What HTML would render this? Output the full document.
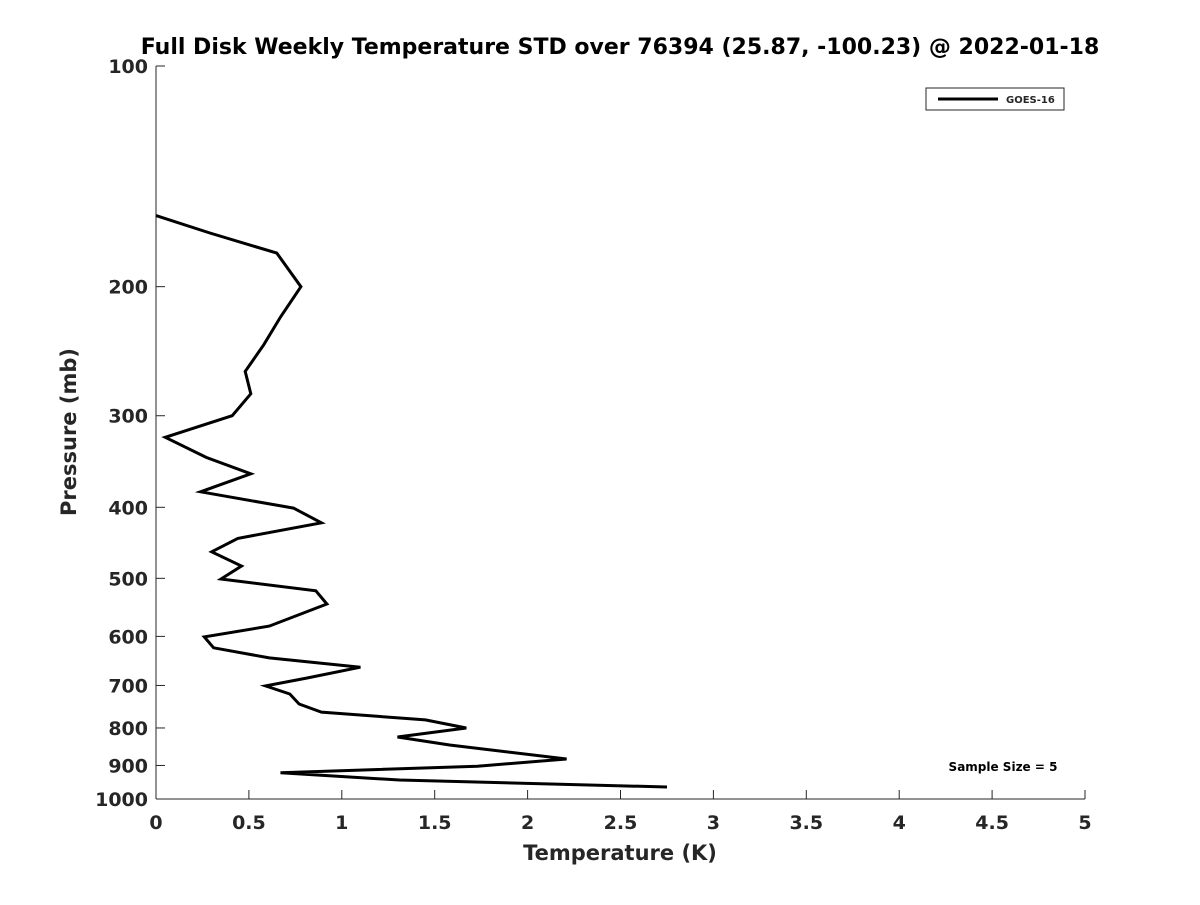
<!DOCTYPE html>
<html><head><meta charset="utf-8"><style>
body{margin:0;background:#fff;}
svg text{font-family:"DejaVu Sans","Liberation Sans",sans-serif;font-weight:bold;fill:#262626;}
</style></head><body>
<svg id="chart" width="1200" height="900" xmlns="http://www.w3.org/2000/svg">
<rect width="1200" height="900" fill="#fff"/>
<text x="620" y="54" font-size="22" text-anchor="middle" fill="#000" style="fill:#000">Full Disk Weekly Temperature STD over 76394 (25.87, -100.23) @ 2022-01-18</text>
<g id="axes"></g>
<path id="series" fill="none" stroke="#000" stroke-width="3" stroke-linejoin="miter"/>
<text x="620" y="860" font-size="21" text-anchor="middle">Temperature (K)</text>
<text transform="translate(76,432) rotate(-90)" font-size="21" text-anchor="middle">Pressure (mb)</text>
<g>
<rect x="926" y="88" width="138" height="22" fill="#fff" stroke="#262626" stroke-width="1"/>
<line x1="938" y1="99" x2="998" y2="99" stroke="#000" stroke-width="3"/>
<text x="1006" y="103" font-size="10" fill="#000">GOES-16</text>
</g>
<text x="1003" y="771" font-size="12" text-anchor="middle" style="fill:#000">Sample Size = 5</text>
</svg>
<script>
const temps = [0,0.29,0.65,0.78,0.67,0.58,0.48,0.51,0.41,0.05,0.27,0.51,0.24,0.74,0.89,0.44,0.30,0.46,0.35,0.86,0.92,0.61,0.26,0.31,0.61,1.10,0.81,0.59,0.72,0.77,0.89,1.45,1.67,1.30,1.58,2.21,1.73,0.67,1.31,2.75];
const pressures = [160,169,180,200,220,240,261,280,300,321,342,360,381,401,420,441,460,481,501,520,542,581,601,622,642,661,684,701,719,742,761,780,800,823,844,882,902,921,942,963];
const xTicks = [0,0.5,1,1.5,2,2.5,3,3.5,4,4.5,5];
const xTickLabels = ["0","0.5","1","1.5","2","2.5","3","3.5","4","4.5","5"];
const yTicks = [100,200,300,400,500,600,700,800,900,1000];
const yTickLabels = ["100","200","300","400","500","600","700","800","900","1000"];

const X0=156,X1=1085,Y0=66,Y1=799;
function xs(v){return X0+(v-0)/(5-0)*(X1-X0);}
function ys(p){return Y0+(Math.log10(p)-2)/1*(Y1-Y0);}
const NS="http://www.w3.org/2000/svg";
const axes=document.getElementById('axes');
function mk(tag,attrs,parent){const e=document.createElementNS(NS,tag);for(const k in attrs)e.setAttribute(k,attrs[k]);parent.appendChild(e);return e;}
const xl=mk('line',{x1:X0,y1:Y1,x2:X1,y2:Y1,stroke:'#262626','stroke-width':1},axes);


const yl=mk('line',{x1:X0,y1:Y0,x2:X0,y2:Y1,stroke:'#262626','stroke-width':1},axes);


xTicks.forEach((v,i)=>{
  const x=xs(v);
  const t=mk('line',{x1:x,y1:Y1,x2:x,y2:Y1-9,stroke:'#262626','stroke-width':1},axes);
  
  
  const l=mk('text',{x:x,y:Y1+30,'font-size':19,'text-anchor':'middle'},axes);
  l.textContent=xTickLabels[i];
  
  
});
yTicks.forEach((v,i)=>{
  const y=ys(v);
  const t=mk('line',{x1:X0,y1:y,x2:X0+9,y2:y,stroke:'#262626','stroke-width':1},axes);
  
  
  const l=mk('text',{x:X0-8,y:y+7,'font-size':19,'text-anchor':'end'},axes);
  l.textContent=yTickLabels[i];
  
  
});
document.getElementById('series').setAttribute('d',temps.map((t,i)=>(i?'L':'M')+xs(t).toFixed(1)+','+ys(pressures[i]).toFixed(1)).join(' '));
</script>
</body></html>
